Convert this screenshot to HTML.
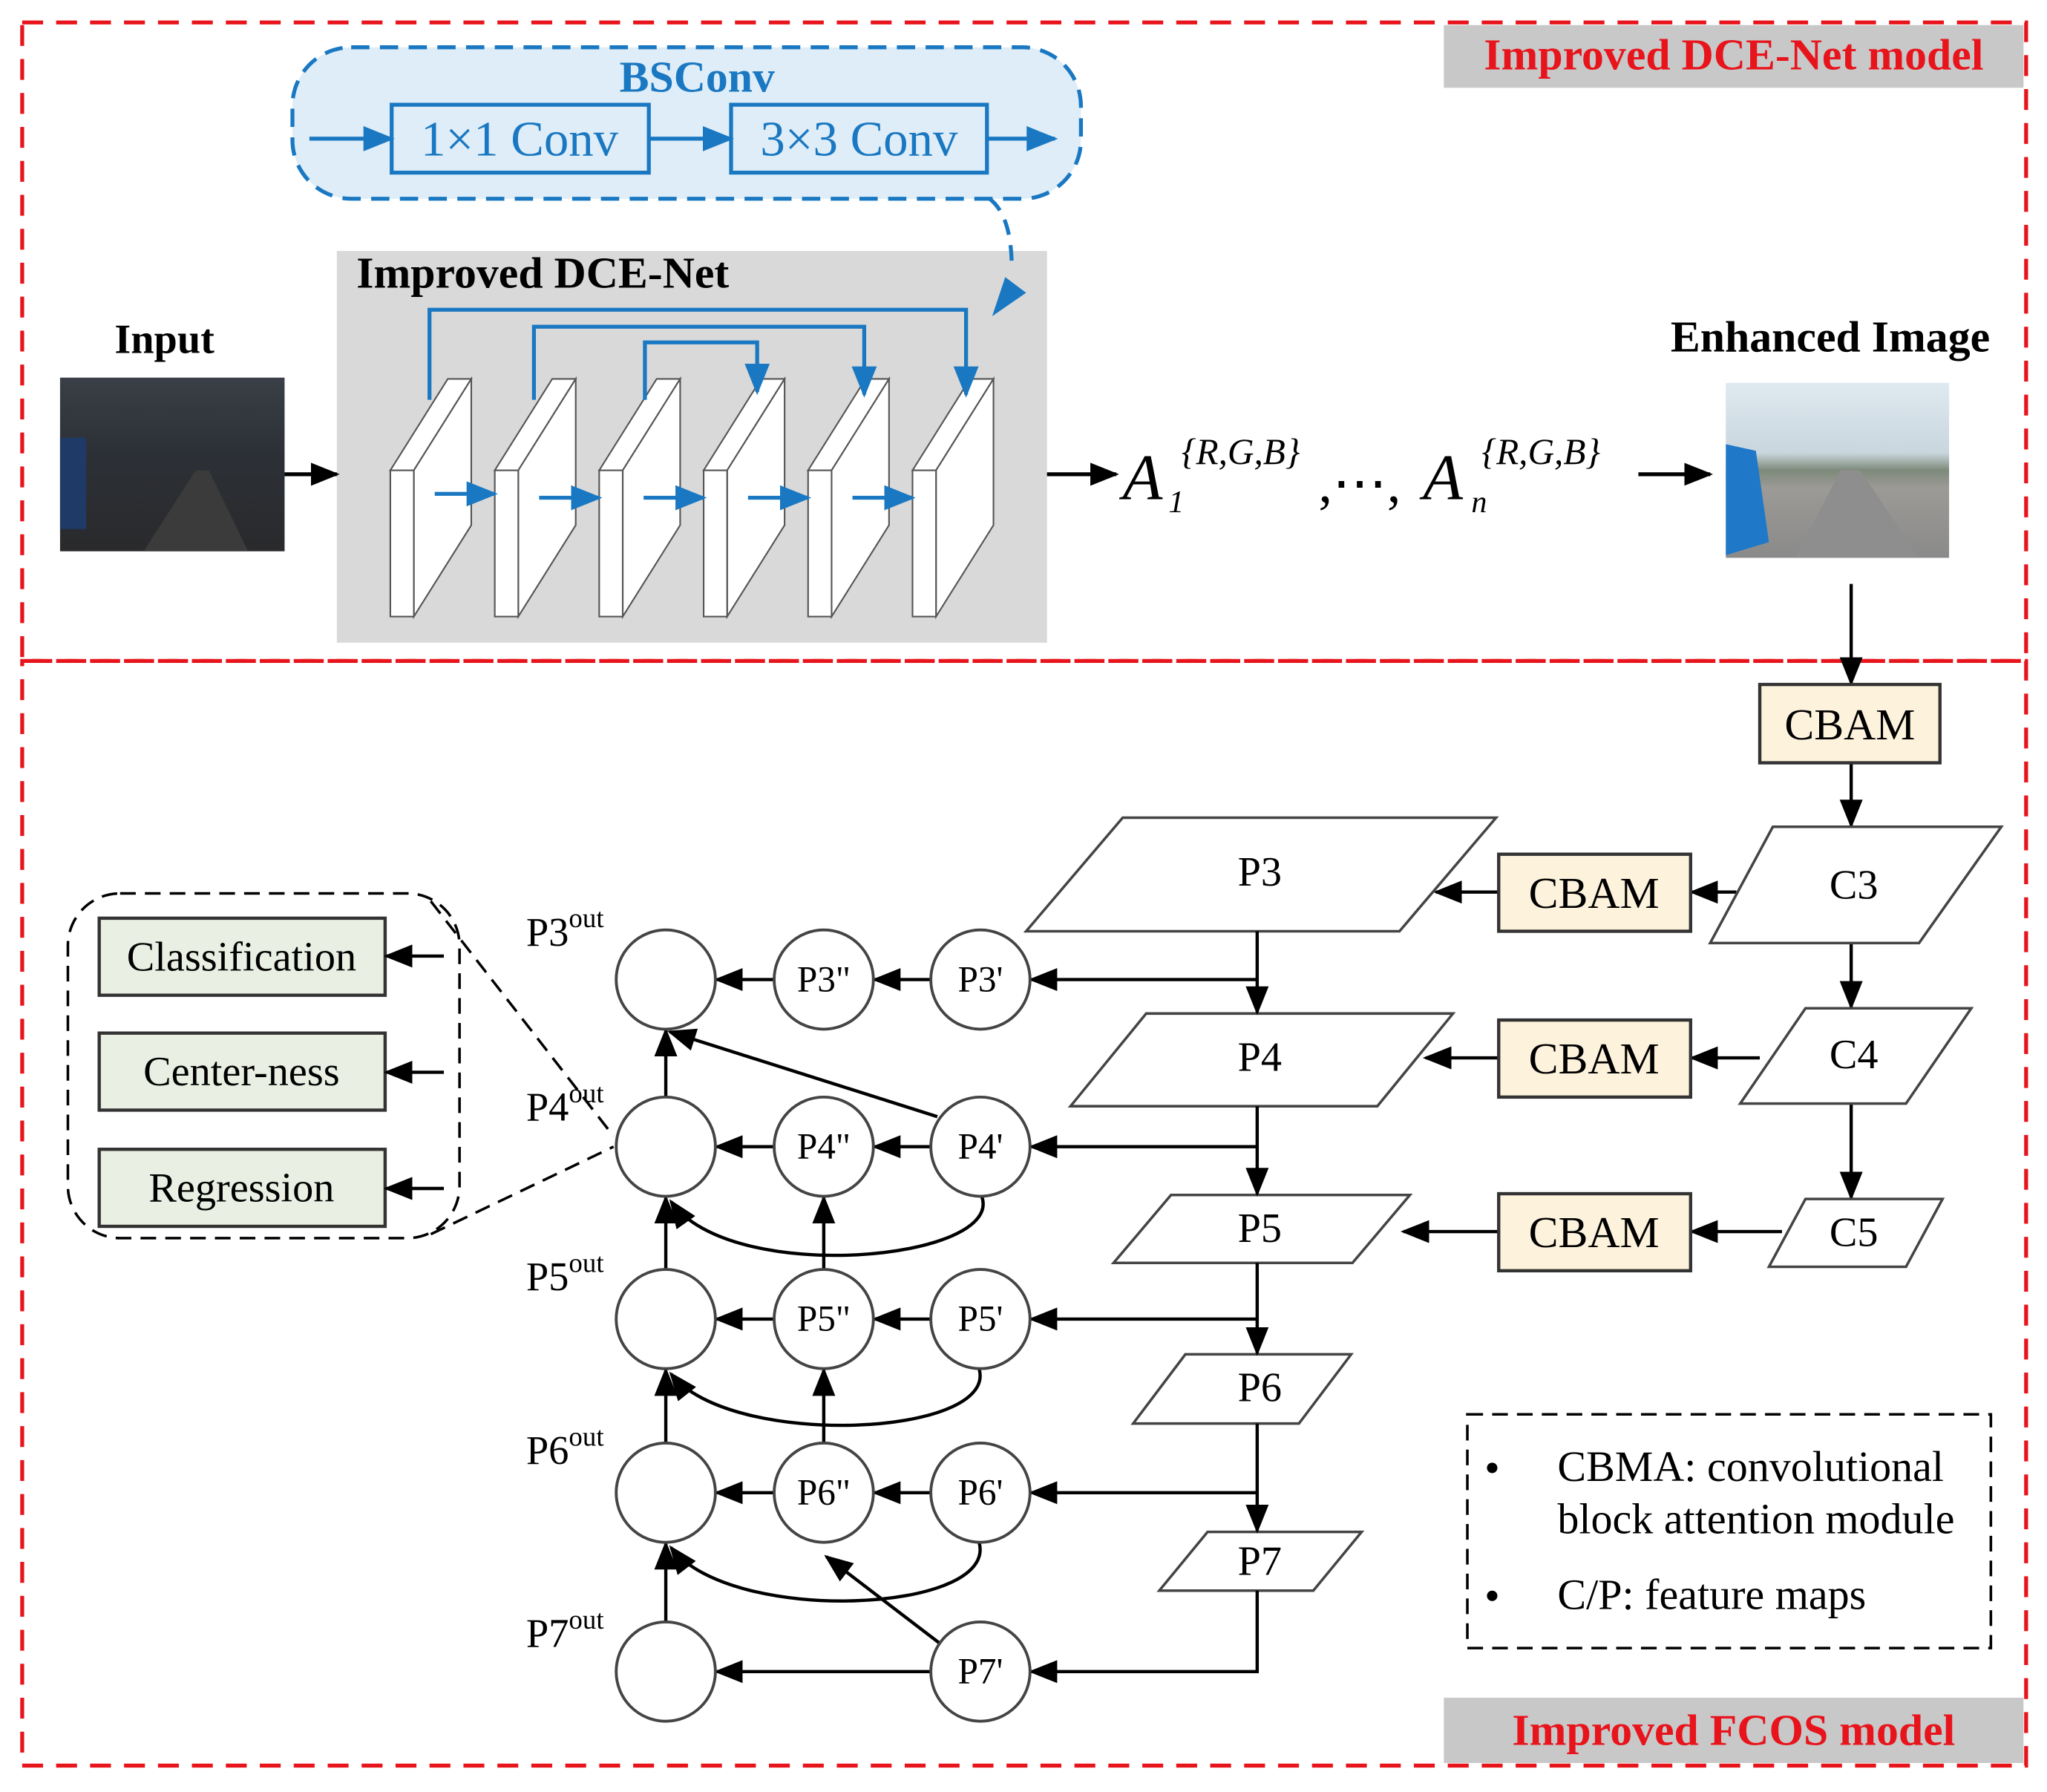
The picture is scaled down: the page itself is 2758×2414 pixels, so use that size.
<!DOCTYPE html>
<html><head><meta charset="utf-8"><style>
html,body{margin:0;padding:0;background:#fff}
svg{display:block}
text{font-family:"Liberation Serif",serif}
</style></head><body>
<svg width="2758" height="2414" viewBox="0 0 1568 1372" xmlns="http://www.w3.org/2000/svg">
<defs>
<marker id="a" viewBox="0 0 10 10" refX="9" refY="5" markerWidth="22" markerHeight="22" markerUnits="userSpaceOnUse" orient="auto"><path d="M0,1L10,5L0,9z" fill="#000"/></marker>
<marker id="ab" viewBox="0 0 10 10" refX="9" refY="5" markerWidth="24" markerHeight="24" markerUnits="userSpaceOnUse" orient="auto"><path d="M0,1L10,5L0,9z" fill="#1a78c2"/></marker>
<linearGradient id="dark" x1="0" y1="0" x2="0" y2="1"><stop offset="0" stop-color="#3a3f47"/><stop offset="0.45" stop-color="#2c3036"/><stop offset="1" stop-color="#2a2a2c"/></linearGradient>
<linearGradient id="bright" x1="0" y1="0" x2="0" y2="1"><stop offset="0" stop-color="#dfe9f0"/><stop offset="0.4" stop-color="#c9d6de"/><stop offset="0.5" stop-color="#7d8a7a"/><stop offset="0.6" stop-color="#9c9a96"/><stop offset="1" stop-color="#8a8a8a"/></linearGradient>
</defs>

<rect x="17" y="17" width="1535" height="489" fill="none" stroke="#e8141c" stroke-width="3" stroke-dasharray="16,10"/>
<rect x="17" y="506" width="1535" height="846" fill="none" stroke="#e8141c" stroke-width="3" stroke-dasharray="16,10"/>
<rect x="1106" y="19" width="444" height="48" fill="#c8c8c8"/>
<text x="1328" y="53" font-size="34" font-weight="bold" fill="#e8141c" text-anchor="middle">Improved DCE-Net model</text>
<rect x="1106" y="1300" width="444" height="50" fill="#c8c8c8"/>
<text x="1328" y="1336" font-size="34" font-weight="bold" fill="#e8141c" text-anchor="middle">Improved FCOS model</text>

<rect x="224" y="36" width="604" height="116" rx="45" fill="#deedf7" stroke="#1a78c2" stroke-width="3" stroke-dasharray="14,8"/>
<text x="534" y="70" font-size="34" font-weight="bold" fill="#1a78c2" text-anchor="middle">BSConv</text>
<rect x="300" y="80" width="197" height="52" fill="none" stroke="#1a78c2" stroke-width="3"/>
<rect x="560" y="80" width="196" height="52" fill="none" stroke="#1a78c2" stroke-width="3"/>
<text x="398" y="119" font-size="38" fill="#1a78c2" text-anchor="middle">1×1 Conv</text>
<text x="658" y="119" font-size="38" fill="#1a78c2" text-anchor="middle">3×3 Conv</text>
<g stroke="#1a78c2" stroke-width="3" fill="none">
<line x1="237" y1="106" x2="300" y2="106" marker-end="url(#ab)"/>
<line x1="497" y1="106" x2="560" y2="106" marker-end="url(#ab)"/>
<line x1="756" y1="106" x2="808" y2="106" marker-end="url(#ab)"/>
</g>

<rect x="258" y="192" width="544" height="300" fill="#d9d9d9"/>
<path d="M758,152 Q775,165 775,205" stroke="#1a78c2" stroke-width="3" fill="none" stroke-dasharray="12,8"/>
<path d="M760,242 L770,212 L786,224 z" fill="#1a78c2"/>
<text x="273" y="220" font-size="34" font-weight="bold">Improved DCE-Net</text>
<g stroke="#555" stroke-width="1.2" fill="#fff">
<g id="slab"><path d="M299,360 L343,290 L361,290 L317,360 z"/><path d="M317,360 L361,290 L361,402 L317,472 z"/><rect x="299" y="360" width="18" height="112"/></g>
<use href="#slab" x="80"/><use href="#slab" x="160"/><use href="#slab" x="240"/><use href="#slab" x="320"/><use href="#slab" x="400"/>
</g>
<g stroke="#1a78c2" stroke-width="3" fill="none">
<polyline points="329,306 329,237 740,237 740,302" marker-end="url(#ab)"/>
<polyline points="409,306 409,250 662,250 662,302" marker-end="url(#ab)"/>
<polyline points="494,306 494,262 580,262 580,300" marker-end="url(#ab)"/>
<line x1="333" y1="378" x2="379" y2="378" marker-end="url(#ab)"/>
<line x1="413" y1="381" x2="459" y2="381" marker-end="url(#ab)"/>
<line x1="493" y1="381" x2="539" y2="381" marker-end="url(#ab)"/>
<line x1="573" y1="381" x2="619" y2="381" marker-end="url(#ab)"/>
<line x1="653" y1="381" x2="699" y2="381" marker-end="url(#ab)"/>
</g>

<text x="126" y="270" font-size="32" font-weight="bold" text-anchor="middle">Input</text>
<rect x="46" y="289" width="172" height="133" fill="url(#dark)"/>
<rect x="46" y="335" width="20" height="70" fill="#1f3a66"/>
<polygon points="110,422 150,360 160,360 190,422" fill="#3b3b3b"/>
<g stroke="#000" stroke-width="3" fill="none">
<line x1="218" y1="363" x2="258" y2="363" marker-end="url(#a)"/>
<line x1="802" y1="363" x2="855" y2="363" marker-end="url(#a)"/>
<line x1="1255" y1="363" x2="1310" y2="363" marker-end="url(#a)"/>
</g>
<text x="860" y="382" font-size="50" font-style="italic">A</text>
<text x="895" y="392" font-size="24" font-style="italic">1</text>
<text x="905" y="355" font-size="28" font-style="italic">{R,G,B}</text>
<text x="1010" y="384" font-size="42">,⋯,</text>
<text x="1090" y="382" font-size="50" font-style="italic">A</text>
<text x="1127" y="392" font-size="24" font-style="italic">n</text>
<text x="1135" y="355" font-size="28" font-style="italic">{R,G,B}</text>

<text x="1402" y="269" font-size="34" font-weight="bold" text-anchor="middle">Enhanced Image</text>
<rect x="1322" y="293" width="171" height="134" fill="url(#bright)"/>
<polygon points="1322,340 1345,345 1355,415 1322,425" fill="#1f78c8"/>
<polygon points="1375,427 1410,360 1425,360 1470,427" fill="#8e8e8e"/>

<g stroke="#000" stroke-width="2.5" fill="none">
<line x1="1418" y1="447" x2="1418" y2="523" marker-end="url(#a)"/>
<line x1="1418" y1="584" x2="1418" y2="632" marker-end="url(#a)"/>
<line x1="1418" y1="722" x2="1418" y2="771" marker-end="url(#a)"/>
<line x1="1418" y1="845" x2="1418" y2="917" marker-end="url(#a)"/>
<line x1="1330" y1="683" x2="1296" y2="683" marker-end="url(#a)"/>
<line x1="1148" y1="683" x2="1100" y2="683" marker-end="url(#a)"/>
<line x1="1348" y1="810" x2="1296" y2="810" marker-end="url(#a)"/>
<line x1="1148" y1="810" x2="1092" y2="810" marker-end="url(#a)"/>
<line x1="1365" y1="943" x2="1296" y2="943" marker-end="url(#a)"/>
<line x1="1148" y1="943" x2="1075" y2="943" marker-end="url(#a)"/>
</g>
<g fill="#fdf2dc" stroke="#333" stroke-width="2.5">
<rect x="1348" y="524" width="138" height="60"/>
<rect x="1148" y="654" width="147" height="59"/>
<rect x="1148" y="781" width="147" height="59"/>
<rect x="1148" y="914" width="147" height="59"/>
</g>
<g font-size="34" text-anchor="middle">
<text x="1417" y="566">CBAM</text>
<text x="1221" y="695">CBAM</text>
<text x="1221" y="822">CBAM</text>
<text x="1221" y="955">CBAM</text>
</g>
<g fill="#fff" stroke="#444" stroke-width="2">
<polygon points="1358,633 1533,633 1470,722 1310,722"/>
<polygon points="1383,772 1510,772 1460,845 1333,845"/>
<polygon points="1383,918 1488,918 1460,970 1355,970"/>
<polygon points="860,626 1146,626 1072,713 786,713"/>
<polygon points="878,776 1113,776 1055,847 820,847"/>
<polygon points="897,915 1080,915 1036,967 853,967"/>
<polygon points="908,1037 1035,1037 995,1090 868,1090"/>
<polygon points="925,1173 1043,1173 1006,1218 888,1218"/>
</g>
<g font-size="32" text-anchor="middle">
<text x="1420" y="688">C3</text><text x="1420" y="818">C4</text><text x="1420" y="954">C5</text>
<text x="965" y="678">P3</text><text x="965" y="820">P4</text><text x="965" y="951">P5</text><text x="965" y="1073">P6</text><text x="965" y="1206">P7</text>
</g>
<g stroke="#000" stroke-width="2.5" fill="none">
<line x1="963" y1="713" x2="963" y2="775" marker-end="url(#a)"/>
<line x1="963" y1="847" x2="963" y2="914" marker-end="url(#a)"/>
<line x1="963" y1="967" x2="963" y2="1036" marker-end="url(#a)"/>
<line x1="963" y1="1090" x2="963" y2="1172" marker-end="url(#a)"/>
<line x1="963" y1="750" x2="790" y2="750" marker-end="url(#a)"/>
<line x1="963" y1="878" x2="790" y2="878" marker-end="url(#a)"/>
<line x1="963" y1="1010" x2="790" y2="1010" marker-end="url(#a)"/>
<line x1="963" y1="1143" x2="790" y2="1143" marker-end="url(#a)"/>
<polyline points="963,1218 963,1280 790,1280" marker-end="url(#a)"/>
<line x1="713" y1="750" x2="670" y2="750" marker-end="url(#a)"/>
<line x1="593" y1="750" x2="549" y2="750" marker-end="url(#a)"/>
<line x1="713" y1="878" x2="670" y2="878" marker-end="url(#a)"/>
<line x1="593" y1="878" x2="549" y2="878" marker-end="url(#a)"/>
<line x1="713" y1="1010" x2="670" y2="1010" marker-end="url(#a)"/>
<line x1="593" y1="1010" x2="549" y2="1010" marker-end="url(#a)"/>
<line x1="713" y1="1143" x2="670" y2="1143" marker-end="url(#a)"/>
<line x1="593" y1="1143" x2="549" y2="1143" marker-end="url(#a)"/>
<line x1="713" y1="1280" x2="549" y2="1280" marker-end="url(#a)"/>
<line x1="510" y1="840" x2="510" y2="789" marker-end="url(#a)"/>
<line x1="510" y1="972" x2="510" y2="917" marker-end="url(#a)"/>
<line x1="510" y1="1105" x2="510" y2="1049" marker-end="url(#a)"/>
<line x1="510" y1="1242" x2="510" y2="1182" marker-end="url(#a)"/>
<line x1="631" y1="972" x2="631" y2="917" marker-end="url(#a)"/>
<line x1="631" y1="1105" x2="631" y2="1049" marker-end="url(#a)"/>
<line x1="718" y1="855" x2="513" y2="790" marker-end="url(#a)"/>
<line x1="722" y1="1260" x2="633" y2="1192" marker-end="url(#a)"/>
<path d="M752,916 C770,965 560,985 514,920" marker-end="url(#a)"/>
<path d="M750,1048 C765,1100 560,1110 514,1052" marker-end="url(#a)"/>
<path d="M750,1181 C765,1235 560,1245 514,1185" marker-end="url(#a)"/>
</g>
<g fill="#fff" stroke="#444" stroke-width="2.2">
<circle cx="510" cy="750" r="38"/><circle cx="631" cy="750" r="38"/><circle cx="751" cy="750" r="38"/>
<circle cx="510" cy="878" r="38"/><circle cx="631" cy="878" r="38"/><circle cx="751" cy="878" r="38"/>
<circle cx="510" cy="1010" r="38"/><circle cx="631" cy="1010" r="38"/><circle cx="751" cy="1010" r="38"/>
<circle cx="510" cy="1143" r="38"/><circle cx="631" cy="1143" r="38"/><circle cx="751" cy="1143" r="38"/>
<circle cx="510" cy="1280" r="38"/><circle cx="751" cy="1280" r="38"/>
</g>
<g font-size="28" text-anchor="middle">
<text x="631" y="759">P3"</text><text x="751" y="759">P3'</text>
<text x="631" y="887">P4"</text><text x="751" y="887">P4'</text>
<text x="631" y="1019">P5"</text><text x="751" y="1019">P5'</text>
<text x="631" y="1152">P6"</text><text x="751" y="1152">P6'</text>
<text x="751" y="1289">P7'</text>
</g>
<g font-size="31">
<text x="403" y="724">P3<tspan font-size="21" dy="-14">out</tspan></text>
<text x="403" y="858">P4<tspan font-size="21" dy="-14">out</tspan></text>
<text x="403" y="988">P5<tspan font-size="21" dy="-14">out</tspan></text>
<text x="403" y="1121">P6<tspan font-size="21" dy="-14">out</tspan></text>
<text x="403" y="1261">P7<tspan font-size="21" dy="-14">out</tspan></text>
</g>

<rect x="52" y="684" width="300" height="264" rx="40" fill="none" stroke="#000" stroke-width="2" stroke-dasharray="12,7"/>
<g stroke="#000" stroke-width="2" stroke-dasharray="12,7">
<line x1="330" y1="690" x2="470" y2="870"/>
<line x1="330" y1="945" x2="470" y2="878"/>
</g>
<g fill="#e9efe2" stroke="#333" stroke-width="2.5">
<rect x="76" y="703" width="219" height="59"/>
<rect x="76" y="791" width="219" height="59"/>
<rect x="76" y="880" width="219" height="59"/>
</g>
<g font-size="32" text-anchor="middle">
<text x="185" y="743">Classification</text>
<text x="185" y="831">Center-ness</text>
<text x="185" y="920">Regression</text>
</g>
<g stroke="#000" stroke-width="2.5">
<line x1="340" y1="732" x2="296" y2="732" marker-end="url(#a)"/>
<line x1="340" y1="821" x2="296" y2="821" marker-end="url(#a)"/>
<line x1="340" y1="910" x2="296" y2="910" marker-end="url(#a)"/>
</g>

<rect x="1124" y="1083" width="401" height="179" fill="none" stroke="#000" stroke-width="2" stroke-dasharray="12,7"/>
<circle cx="1143" cy="1124" r="4"/><circle cx="1143" cy="1222" r="4"/>
<g font-size="33">
<text x="1193" y="1134">CBMA: convolutional</text>
<text x="1193" y="1174">block attention module</text>
<text x="1193" y="1232">C/P: feature maps</text>
</g>
</svg>
</body></html>
